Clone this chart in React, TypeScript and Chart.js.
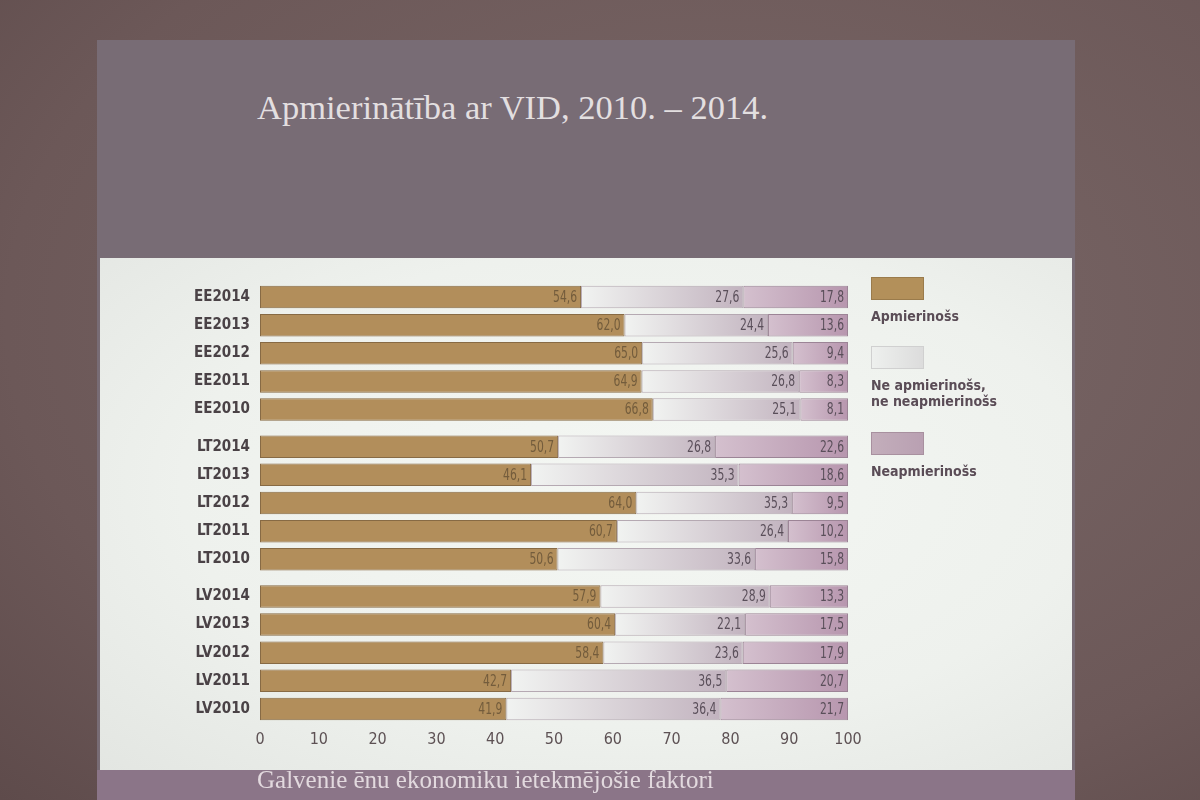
import React, { useEffect, useRef } from "react";
import { Chart, registerables } from "chart.js";

Chart.register(...registerables);

// ---- data ----
const categories = [
  "EE2014", "EE2013", "EE2012", "EE2011", "EE2010",
  "LT2014", "LT2013", "LT2012", "LT2011", "LT2010",
  "LV2014", "LV2013", "LV2012", "LV2011", "LV2010",
];
const satisfied = [54.6, 62.0, 65.0, 64.9, 66.8, 50.7, 46.1, 64.0, 60.7, 50.6, 57.9, 60.4, 58.4, 42.7, 41.9];
const neutral = [27.6, 24.4, 25.6, 26.8, 25.1, 26.8, 35.3, 35.3, 26.4, 33.6, 28.9, 22.1, 23.6, 36.5, 36.4];
const dissatisfied = [17.8, 13.6, 9.4, 8.3, 8.1, 22.6, 18.6, 9.5, 10.2, 15.8, 13.3, 17.5, 17.9, 20.7, 21.7];
const seriesNames = ["Apmierinošs", "Ne apmierinošs, ne neapmierinošs", "Neapmierinošs"];
const xTickValues = [0, 10, 20, 30, 40, 50, 60, 70, 80, 90, 100];

const title = "Apmierinātība ar VID, 2010. – 2014.";
const footer = "Galvenie ēnu ekonomiku ietekmējošie faktori";

// ---- layout helpers (row positions with a small gap between country groups) ----
const GROUP_GAP = 0.32;
const rowPos: number[] = (() => {
  const out: number[] = [];
  let g = 0;
  categories.forEach((c, i) => {
    if (i > 0 && c.slice(0, 2) !== categories[i - 1].slice(0, 2)) g += 1;
    out.push(i + g * GROUP_GAP);
  });
  return out;
})();

const COND = '"DejaVu Sans Condensed", "Liberation Sans Narrow", "DejaVu Sans", sans-serif';
const SERIF = '"Liberation Serif", "DejaVu Serif", serif';

const fmt = (v: number) => v.toFixed(1).replace(".", ",");

const gradFill = (c0: string, c1: string) => (ctx: any) => {
  const chart = ctx.chart;
  const xs = chart.scales && chart.scales.x;
  if (ctx.type !== "data" || !xs || !ctx.raw) return c1;
  const [a, b] = ctx.raw.x;
  const x0 = xs.getPixelForValue(a);
  const x1 = xs.getPixelForValue(b);
  if (!isFinite(x0) || !isFinite(x1) || x0 === x1) return c1;
  const g = chart.ctx.createLinearGradient(x0, 0, x1, 0);
  g.addColorStop(0, c0);
  g.addColorStop(1, c1);
  return g;
};

const labelPlugin = {
  id: "segLabels",
  afterDatasetsDraw(chart: any) {
    const ctx = chart.ctx;
    const arrays = [satisfied, neutral, dissatisfied];
    chart.data.datasets.forEach((_ds: any, di: number) => {
      const meta = chart.getDatasetMeta(di);
      meta.data.forEach((el: any, i: number) => {
        const p = el.getProps(["x", "y", "base"], true);
        const right = Math.max(p.x, p.base);
        ctx.save();
        ctx.translate(right - 4, p.y + 1);
        ctx.scale(0.8, 1);
        ctx.font = `15px ${COND}`;
        ctx.fillStyle = di === 0 ? "#735c3c" : "#5a4f5a";
        ctx.textAlign = "right";
        ctx.textBaseline = "middle";
        ctx.fillText(fmt(arrays[di][i]), 0, 0);
        ctx.restore();
      });
    });
  },
};

function ChartView() {
  const ref = useRef<HTMLCanvasElement | null>(null);
  useEffect(() => {
    if (!ref.current) return;
    const chart = new Chart(ref.current, {
      type: "bar",
      data: {
        datasets: [
          {
            label: seriesNames[0],
            data: categories.map((_, i) => ({ x: [0, satisfied[i]], y: rowPos[i] })) as any,
            backgroundColor: "#b28e5b",
            borderColor: "#876a44",
            borderWidth: 1,
            borderSkipped: false,
            grouped: false,
          } as any,
          {
            label: seriesNames[1],
            data: categories.map((_, i) => ({ x: [satisfied[i], 100 - dissatisfied[i]], y: rowPos[i] })) as any,
            backgroundColor: gradFill("#f1f3f1", "#c2b3bf"),
            borderColor: "#b5a9b2",
            borderWidth: 1,
            borderSkipped: false,
            grouped: false,
          } as any,
          {
            label: seriesNames[2],
            data: categories.map((_, i) => ({ x: [100 - dissatisfied[i], 100], y: rowPos[i] })) as any,
            backgroundColor: gradFill("#d4c0ce", "#b796ae"),
            borderColor: "#9c8496",
            borderWidth: 1,
            borderSkipped: false,
            grouped: false,
          } as any,
        ],
      },
      options: {
        indexAxis: "y",
        responsive: false,
        animation: false,
        layout: { padding: { left: 10, right: 32, top: 25, bottom: 17 } },
        datasets: { bar: { categoryPercentage: 1, barPercentage: 0.8 } } as any,
        plugins: { legend: { display: false }, tooltip: { enabled: false } },
        scales: {
          x: {
            type: "linear",
            min: 0,
            max: 100,
            grid: { display: false, drawTicks: false },
            border: { display: false },
            afterBuildTicks: (scale: any) => {
              scale.ticks = xTickValues.map((v) => ({ value: v }));
            },
            ticks: {
              color: "#5d5154",
              padding: 7,
              font: { family: COND, size: 16 },
            },
            afterFit: (scale: any) => {
              scale.height = 30;
            },
          },
          y: {
            type: "linear",
            offset: false,
            reverse: true,
            min: -0.5,
            max: rowPos[rowPos.length - 1] + 0.5,
            grid: { display: false, drawTicks: false, offset: false },
            border: { display: false },
            afterBuildTicks: (scale: any) => {
              scale.ticks = rowPos.map((v) => ({ value: v }));
            },
            ticks: {
              autoSkip: false,
              color: "#4a4246",
              padding: 10,
              font: { family: COND, size: 15, weight: "bold" },
              callback: (value: any) => {
                const i = rowPos.findIndex((p) => Math.abs(p - Number(value)) < 1e-6);
                return i >= 0 ? categories[i] : "";
              },
            },
            afterFit: (scale: any) => {
              scale.width = 150;
            },
          },
        } as any,
      } as any,
      plugins: [labelPlugin],
    });
    return () => chart.destroy();
  }, []);
  return <canvas ref={ref} width={780} height={512} style={{ width: 780, height: 512, display: "block" }} />;
}

const legendColors = [
  { bg: "#b3905a", border: "#9a7b4b" },
  { bg: "linear-gradient(90deg,#eef0ee,#dcdcdc)", border: "#d0d0d0" },
  { bg: "linear-gradient(90deg,#c3aebb,#b9a0b2)", border: "#a8909f" },
];

export default function App() {
  const legendTop = [277, 346, 432];
  return (
    <div
      style={{
        position: "fixed",
        left: 0,
        top: 0,
        width: 1200,
        height: 800,
        overflow: "hidden",
        background: "radial-gradient(ellipse at 60% 40%, #7a6868 0%, #6c5858 70%, #5e4b4b 100%)",
      }}
    >
      {/* slide */}
      <div
        style={{
          position: "absolute",
          left: 97,
          top: 40,
          width: 978,
          height: 760,
          background: "#786c75",
        }}
      />
      <div
        style={{
          position: "absolute",
          left: 257,
          top: 86,
          fontFamily: SERIF,
          fontSize: 34.5,
          color: "#e3dfe0",
          whiteSpace: "nowrap",
          lineHeight: "42px",
        }}
      >
        {title}
      </div>
      {/* white panel */}
      <div
        style={{
          position: "absolute",
          left: 100,
          top: 258,
          width: 972,
          height: 512,
          background: "radial-gradient(ellipse at 55% 45%, #f4f7f3 0%, #eef1ed 60%, #e3e6e2 100%)",
        }}
      />
      <div style={{ position: "absolute", left: 100, top: 258 }}>
        <ChartView />
      </div>
      {/* legend */}
      {seriesNames.map((name, i) => (
        <div key={name} style={{ position: "absolute", left: 871, top: legendTop[i], width: 190 }}>
          <div
            style={{
              width: 53,
              height: 23,
              background: legendColors[i].bg,
              border: `1px solid ${legendColors[i].border}`,
              boxSizing: "border-box",
            }}
          />
          <div
            style={{
              marginTop: 8,
              fontFamily: COND,
              fontSize: 14,
              fontWeight: "bold",
              color: "#5a4c56",
              lineHeight: "16px",
              width: i === 1 ? 150 : 180,
            }}
          >
            {i === 1 ? (
              <>
                Ne apmierinošs,
                <br />
                ne neapmierinošs
              </>
            ) : (
              name
            )}
          </div>
        </div>
      ))}
      {/* footer band */}
      <div
        style={{
          position: "absolute",
          left: 97,
          top: 770,
          width: 978,
          height: 30,
          background: "#8b7588",
        }}
      />
      <div
        style={{
          position: "absolute",
          left: 257,
          top: 765,
          fontFamily: SERIF,
          fontSize: 25,
          color: "#e2d9de",
          whiteSpace: "nowrap",
          lineHeight: "30px",
        }}
      >
        {footer}
      </div>
    </div>
  );
}
